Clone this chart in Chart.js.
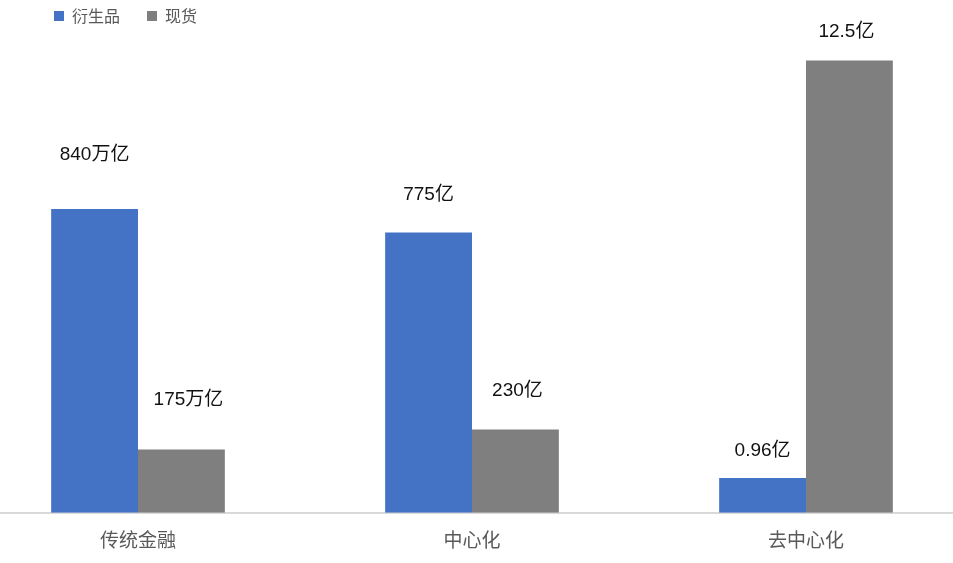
<!DOCTYPE html>
<html>
<head>
<meta charset="utf-8">
<script src="https://cdn.jsdelivr.net/npm/chart.js@4"></script>
<style>
  html, body { margin: 0; padding: 0; background: #fff; overflow: hidden; }
  body { width: 953px; height: 563px; position: relative; }
  #wrap { position: absolute; left: -29px; top: 0; width: 1002px; height: 563px; }
</style>
</head>
<body>
<div id="wrap"><canvas id="chart"></canvas></div>
<script>
// categories and series
const categories = ['传统金融', '中心化', '去中心化'];
const seriesNames = ['衍生品', '现货'];
// bar heights as drawn in the picture (same scale across groups)
const derivValues = [840, 775, 96];
const spotValues = [175, 230, 1250];
// text shown above each bar
const derivLabels = ['840万亿', '775亿', '0.96亿'];
const spotLabels = ['175万亿', '230亿', '12.5亿'];

// label nudges [dx, dy above bar top] per bar
const derivNudge = [[0, 54], [0, 38], [0, 27]];
const spotNudge = [[7, 50], [2, 39], [-3, 29]];

Chart.defaults.font.family = "'Noto Sans CJK SC', 'Noto Sans', sans-serif";

const barLabels = {
    id: 'barLabels',
    afterDatasetsDraw(chart) {
        const ctx = chart.ctx;
        const texts = [derivLabels, spotLabels];
        const nudges = [derivNudge, spotNudge];
        ctx.save();
        ctx.font = "19px 'Liberation Sans', 'Noto Sans CJK SC', sans-serif";
        ctx.fillStyle = '#111';
        ctx.textAlign = 'center';
        ctx.textBaseline = 'middle';
        chart.data.datasets.forEach((ds, di) => {
            chart.getDatasetMeta(di).data.forEach((bar, i) => {
                const [dx, dy] = nudges[di][i];
                ctx.fillText(texts[di][i], bar.x + dx, bar.y - dy);
            });
        });
        ctx.restore();
    }
};

// move the legend to where it sits in the picture
const legendShift = {
    id: 'legendShift',
    afterLayout(chart) {
        const lg = chart.legend;
        lg.left += 56; lg.right += 56;
        lg.top -= 19; lg.bottom -= 19;
    }
};

new Chart(document.getElementById('chart'), {
    type: 'bar',
    data: {
        labels: categories,
        datasets: [{
            label: seriesNames[0],
            data: derivValues,
            backgroundColor: '#4472c4',
            categoryPercentage: 0.52,
            barPercentage: 1.0
        }, {
            label: seriesNames[1],
            data: spotValues,
            backgroundColor: '#7f7f7f',
            categoryPercentage: 0.52,
            barPercentage: 1.0
        }]
    },
    options: {
        responsive: true,
        maintainAspectRatio: false,
        animation: false,
        layout: { padding: { left: 0, right: 0, top: 0, bottom: -4.5 } },
        plugins: {
            legend: {
                position: 'top',
                align: 'start',
                labels: {
                    boxWidth: 10,
                    boxHeight: 10,
                    padding: 27,
                    color: '#595959',
                    font: { size: 16 }
                }
            },
            tooltip: { enabled: false }
        },
        scales: {
            x: {
                grid: { display: false, drawTicks: false },
                border: { display: true, color: '#d9d9d9', width: 2 },
                ticks: {
                    color: '#595959',
                    padding: 16,
                    font: { size: 19 }
                }
            },
            y: {
                display: false,
                min: 0,
                max: 1271
            }
        }
    },
    plugins: [barLabels, legendShift]
});
</script>
</body>
</html>
